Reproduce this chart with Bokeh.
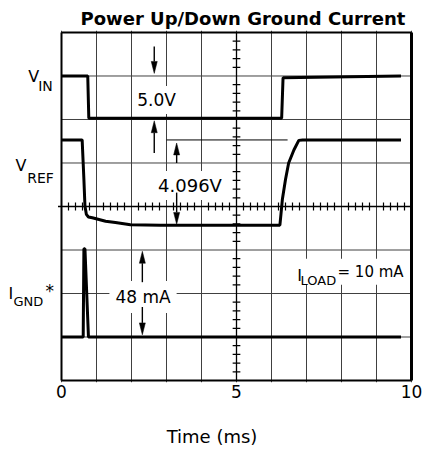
import numpy as np
from bokeh.plotting import figure
from bokeh.models import Label, FixedTicker, Range1d, BoxAnnotation
from bokeh.embed import file_html
from bokeh.resources import INLINE

# ---- data: time in ms, vertical position in screen divisions (0..8) ----
vin_t = [0.0, 0.75, 0.78, 6.29, 6.33, 9.7]
vin_y = [7.0, 7.0, 6.03, 6.03, 6.96, 7.0]

vref_t = [0.0, 0.59, 0.64, 0.67, 0.71, 0.77, 0.88, 1.26, 1.54, 1.97, 2.83,
          6.24, 6.27, 6.31, 6.40, 6.49, 6.64, 6.78, 6.89, 9.7]
vref_y = [5.53, 5.53, 4.62, 4.01, 3.82, 3.76, 3.74, 3.66, 3.63, 3.58, 3.57,
          3.57, 3.82, 4.16, 4.62, 5.0, 5.30, 5.52, 5.53, 5.53]

ignd_t = [0.0, 0.62, 0.64, 0.67, 0.77, 9.7]
ignd_y = [1.0, 1.0, 3.03, 3.03, 1.0, 1.0]

x_ticks = [0, 5, 10]
x_grid = list(range(11))
y_grid = list(range(1, 8))

# annotation arrows: (x, start, tip)
arrow_x = [2.65, 2.65, 3.29, 3.29, 2.31, 2.31]
arrow_start = [7.68, 5.23, 5.00, 4.32, 2.26, 1.69]
arrow_tip = [7.06, 5.97, 5.46, 3.59, 2.97, 1.05]

FONT = "DejaVu Sans"
PX_X = 35.0      # pixels per ms
PX_Y = 43.75     # pixels per division

p = figure(width=423, height=449,
           x_range=Range1d(-61 / PX_X, (423 - 61) / PX_X),
           y_range=Range1d(-2 / PX_Y, 8 + 2 / PX_Y),
           output_backend="svg", toolbar_location=None, y_axis_location=None,
           min_border_left=0, min_border_right=0, min_border_top=30,
           min_border_bottom=65)
p.background_fill_color = "white"
p.border_fill_color = "white"
p.outline_line_color = None
for g in p.ygrid:
    g.visible = False

p.title.text = "Power Up/Down Ground Current"
p.title.text_font = FONT
p.title.text_font_size = "18px"
p.title.text_font_style = "bold"
p.title.text_color = "black"
p.title.align = "left"
p.title.offset = 80
p.title.standoff = 3

# x axis
ax = p.xaxis[0]
ax.ticker = FixedTicker(ticks=x_ticks)
ax.major_tick_line_color = None
ax.minor_tick_line_color = None
ax.major_tick_out = 0
ax.major_tick_in = 0
ax.axis_line_color = None
ax.major_label_text_font = FONT
ax.major_label_text_font_size = "17px"
ax.major_label_text_color = "black"
ax.major_label_standoff = 2
ax.axis_label = "Time (ms)"
ax.axis_label_text_font = FONT
ax.axis_label_text_font_size = "18px"
ax.axis_label_text_font_style = "normal"
ax.axis_label_text_color = "black"
ax.axis_label_standoff = 25

# vertical grid lines (library grid), horizontal grid lines inside graticule
p.xgrid.ticker = FixedTicker(ticks=x_grid)
p.xgrid.grid_line_color = "#404040"
p.xgrid.grid_line_width = 1
p.segment(x0=[0] * len(y_grid), y0=y_grid, x1=[10] * len(y_grid), y1=y_grid,
          line_color="#404040", line_width=1)

# center graticule axes with minor ticks
p.segment(x0=[5], y0=[0], x1=[5], y1=[8], line_color="black", line_width=1.3)
p.segment(x0=[-0.1], y0=[4], x1=[10], y1=[4], line_color="black", line_width=1.3)
ty = [k * 0.2 for k in range(41) if k % 5]
p.segment(x0=[5 - 0.11] * len(ty), y0=ty, x1=[5 + 0.11] * len(ty), y1=ty,
          line_color="black", line_width=1.2)
tx = [k * 0.2 for k in range(51) if k % 5]
p.segment(x0=tx, y0=[4 - 0.09] * len(tx), x1=tx, y1=[4 + 0.09] * len(tx),
          line_color="black", line_width=1.2)

# graticule border
p.segment(x0=[0, 0, 0], y0=[0, 8, 0], x1=[10, 10, 0], y1=[0, 8, 8],
          line_color="black", line_width=2)
p.segment(x0=[10], y0=[0], x1=[10], y1=[8], line_color="black", line_width=3)

# reference extension line at VREF level
p.segment(x0=[3.0], y0=[vref_y[0]], x1=[6.46], y1=[vref_y[0]],
          line_color="black", line_width=1)

# traces
p.line(vin_t, vin_y, line_color="black", line_width=3)
p.line(vref_t, vref_y, line_color="black", line_width=3)
p.line(ignd_t, ignd_y, line_color="black", line_width=3)

DY = 4 / PX_Y  # baseline correction


def lab(x, y, text, size="16px", align="left", bg=None, pad=0):
    l = Label(x=x, y=y + DY, text=text, text_font=FONT, text_font_size=size,
              text_align=align, text_baseline="alphabetic", text_color="black")
    if bg:
        l.background_fill_color = bg
        l.padding = pad
    p.add_layout(l)


# value annotations with white backgrounds
lab(2.714, 6.354, "5.0V", "17px", "center", "white", 4)
lab(3.671, 4.389, "4.096V", "18px", "center", "white", 4)
lab(2.329, 1.829, "48 mA", "17px", "center", "white", 6)

# I_LOAD label
p.add_layout(BoxAnnotation(left=6.6, right=9.9, bottom=2.2, top=2.8,
                           fill_color="white", fill_alpha=1, line_color=None))
lab(6.734, 2.331, "I", "16px")
lab(6.829, 2.217, "LOAD", "13px")
lab(7.886, 2.40, "= 10 mA", "15px")

# channel labels on the left
lab(-0.951, 6.887, "V", "16px")
lab(-0.666, 6.674, "IN", "14px")
lab(-1.314, 4.846, "V", "16px")
lab(-0.980, 4.571, "REF", "14px")
lab(-1.514, 1.920, "I", "16px")
lab(-1.371, 1.714, "GND", "13px")
lab(-0.457, 1.966, "*", "17px")

# arrows (drawn above the label boxes)
head_len = 12 / PX_Y
head_hw = 3 / PX_X
xs, ys = [], []
for x, s, t in zip(arrow_x, arrow_start, arrow_tip):
    d = 1 if t > s else -1
    base = t - d * head_len
    p.segment(x0=[x], y0=[s], x1=[x], y1=[base], line_color="black",
              line_width=1.4, level="overlay")
    xs.append([x - head_hw, x, x + head_hw])
    ys.append([base, t, base])
p.patches(xs, ys, fill_color="black", line_color="black", line_width=0.5,
          level="overlay")

open("out.html", "w").write(file_html(p, INLINE))
